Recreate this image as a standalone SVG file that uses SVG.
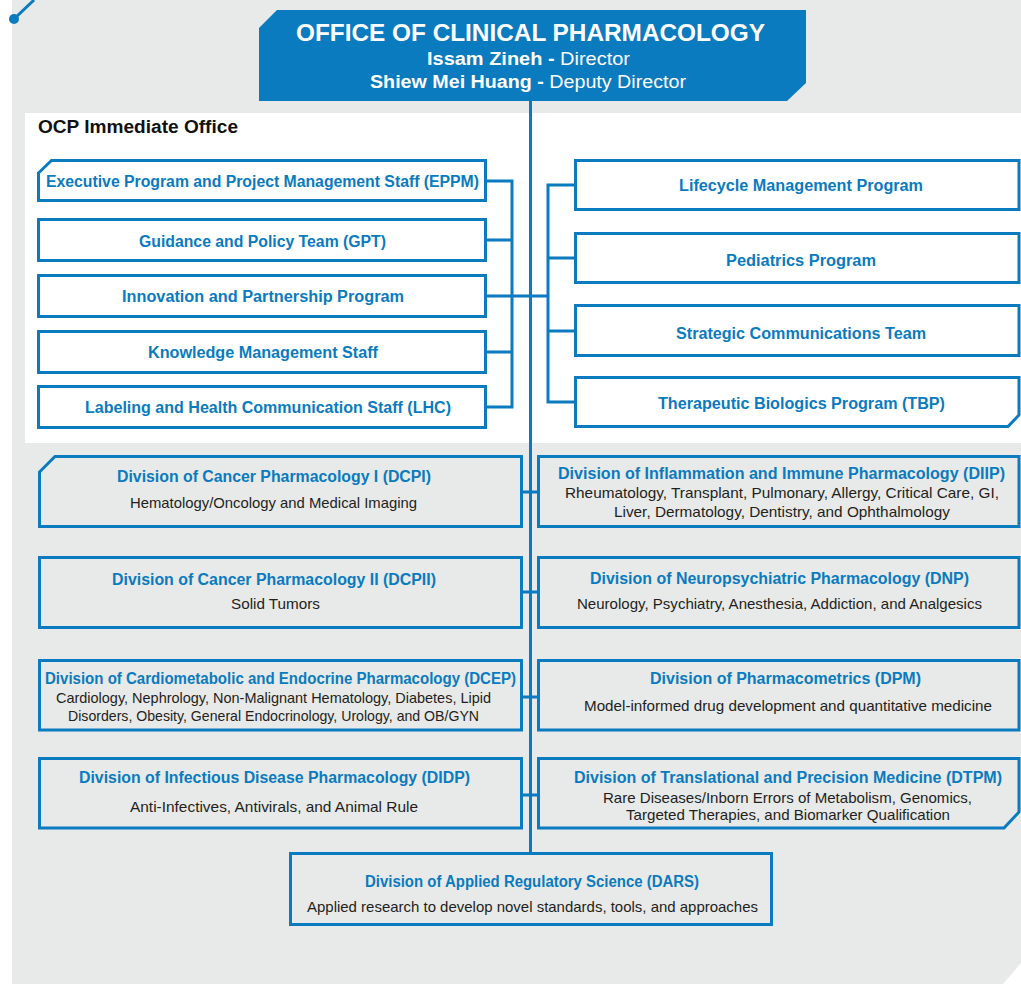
<svg xmlns="http://www.w3.org/2000/svg" width="1021" height="984" viewBox="0 0 1021 984">
<defs>
<style>
text{font-family:"Liberation Sans",Arial,sans-serif;text-anchor:middle}
.box{fill:#ffffff;stroke:#0a7bbf;stroke-width:3}
.div{fill:#e8e9e9;stroke:#0a7bbf;stroke-width:3}
.con{fill:none;stroke:#0a7bbf;stroke-width:3}
.t{fill:#0a7bbf;font-weight:bold;font-size:16px}
.s{fill:#231f20;font-size:14.5px}
.h{fill:#ffffff}
</style>
</defs>
<rect width="1021" height="984" fill="#ffffff"/>
<polygon points="12,0 1021,0 1021,963 1003,984 12,984" fill="#e8e9e9"/>
<line x1="14" y1="19" x2="34" y2="0" stroke="#0a7bbf" stroke-width="3"/>
<circle cx="14" cy="19" r="5" fill="#0a7bbf"/>
<rect x="25" y="113" width="996" height="330" fill="#ffffff"/>
<text x="38" y="133" style="text-anchor:start;font-weight:bold;font-size:18px;fill:#111" textLength="200" lengthAdjust="spacingAndGlyphs">OCP Immediate Office</text>

<g id="connectors">
<line class="con" x1="530.5" y1="101" x2="530.5" y2="853"/>
<path class="con" d="M487,181 H512 M487,240 H512 M487,296 H548 M487,352 H512 M487,407 H512 M512,179.5 V408.5"/>
<path class="con" d="M548,185 H575 M548,258 H575 M548,331 H575 M548,402 H575 M548,183.5 V403.5"/>
<path class="con" d="M522,492 H538 M522,592 H538 M522,697 H538 M522,795 H538"/>
</g>

<g id="ocp">
<polygon points="277,10 806,10 806,83 787,101 259,101 259,28" fill="#0a7bbf"/>
<text class="h" x="530.5" y="41" style="font-weight:bold;font-size:24px" textLength="469" lengthAdjust="spacingAndGlyphs">OFFICE OF CLINICAL PHARMACOLOGY</text>
<text class="h" x="528.5" y="65" style="font-size:18px" textLength="203" lengthAdjust="spacingAndGlyphs"><tspan font-weight="bold">Issam Zineh - </tspan>Director</text>
<text class="h" x="528" y="88" style="font-size:18px" textLength="316" lengthAdjust="spacingAndGlyphs"><tspan font-weight="bold">Shiew Mei Huang - </tspan>Deputy Director</text>
</g>

<g id="eppm">
<path class="box" d="M38.5,173 L51.5,160.5 H485.5 V200.5 H38.5 Z"/>
<text class="t" x="262.5" y="187" textLength="433" lengthAdjust="spacingAndGlyphs">Executive Program and Project Management Staff (EPPM)</text>
</g>
<g id="gpt">
<rect class="box" x="38.5" y="219.5" width="447" height="41"/>
<text class="t" x="262.5" y="247" textLength="247" lengthAdjust="spacingAndGlyphs">Guidance and Policy Team (GPT)</text>
</g>
<g id="ipp">
<rect class="box" x="38.5" y="275.5" width="447" height="41"/>
<text class="t" x="263" y="302" textLength="282" lengthAdjust="spacingAndGlyphs">Innovation and Partnership Program</text>
</g>
<g id="kms">
<rect class="box" x="38.5" y="331.5" width="447" height="41"/>
<text class="t" x="263" y="358" textLength="230" lengthAdjust="spacingAndGlyphs">Knowledge Management Staff</text>
</g>
<g id="lhc">
<rect class="box" x="38.5" y="386.5" width="447" height="41"/>
<text class="t" x="268" y="413" textLength="366" lengthAdjust="spacingAndGlyphs">Labeling and Health Communication Staff (LHC)</text>
</g>

<g id="lcm">
<rect class="box" x="575.5" y="160.5" width="443.5" height="49"/>
<text class="t" x="801" y="191" textLength="244" lengthAdjust="spacingAndGlyphs">Lifecycle Management Program</text>
</g>
<g id="ped">
<rect class="box" x="575.5" y="233.5" width="443.5" height="49"/>
<text class="t" x="801" y="266" textLength="150" lengthAdjust="spacingAndGlyphs">Pediatrics Program</text>
</g>
<g id="sct">
<rect class="box" x="575.5" y="305.5" width="443.5" height="50"/>
<text class="t" x="801" y="339" textLength="250" lengthAdjust="spacingAndGlyphs">Strategic Communications Team</text>
</g>
<g id="tbp">
<path class="box" d="M575.5,377.5 H1019 V415 L1008,426.5 H575.5 Z"/>
<text class="t" x="801.5" y="409" textLength="287" lengthAdjust="spacingAndGlyphs">Therapeutic Biologics Program (TBP)</text>
</g>

<g id="dcpi">
<path class="div" d="M39.5,472 L55,456.5 H521.5 V526.5 H39.5 Z"/>
<text class="t" x="274" y="482" textLength="314" lengthAdjust="spacingAndGlyphs">Division of Cancer Pharmacology I (DCPI)</text>
<text class="s" x="273.5" y="508" textLength="287" lengthAdjust="spacingAndGlyphs">Hematology/Oncology and Medical Imaging</text>
</g>
<g id="diip">
<rect class="div" x="538.5" y="456.5" width="480.5" height="70"/>
<text class="t" x="781.5" y="479" textLength="447" lengthAdjust="spacingAndGlyphs">Division of Inflammation and Immune Pharmacology (DIIP)</text>
<text class="s" x="782" y="498" textLength="434" lengthAdjust="spacingAndGlyphs">Rheumatology, Transplant, Pulmonary, Allergy, Critical Care, GI,</text>
<text class="s" x="782" y="517" textLength="336" lengthAdjust="spacingAndGlyphs">Liver, Dermatology, Dentistry, and Ophthalmology</text>
</g>
<g id="dcpii">
<rect class="div" x="39.5" y="557.5" width="482" height="70"/>
<text class="t" x="274" y="585" textLength="324" lengthAdjust="spacingAndGlyphs">Division of Cancer Pharmacology II (DCPII)</text>
<text class="s" x="275.5" y="609" textLength="89" lengthAdjust="spacingAndGlyphs">Solid Tumors</text>
</g>
<g id="dnp">
<rect class="div" x="538.5" y="557.5" width="480.5" height="70"/>
<text class="t" x="779.5" y="584" textLength="379" lengthAdjust="spacingAndGlyphs">Division of Neuropsychiatric Pharmacology (DNP)</text>
<text class="s" x="779.5" y="609" textLength="405" lengthAdjust="spacingAndGlyphs">Neurology, Psychiatry, Anesthesia, Addiction, and Analgesics</text>
</g>
<g id="dcep">
<rect class="div" x="39.5" y="660.5" width="482" height="69.5"/>
<text class="t" x="280.5" y="684" textLength="471" lengthAdjust="spacingAndGlyphs">Division of Cardiometabolic and Endocrine Pharmacology (DCEP)</text>
<text class="s" x="273.5" y="703" textLength="435" lengthAdjust="spacingAndGlyphs">Cardiology, Nephrology, Non-Malignant Hematology, Diabetes, Lipid</text>
<text class="s" x="273.5" y="721" textLength="411" lengthAdjust="spacingAndGlyphs">Disorders, Obesity, General Endocrinology, Urology, and OB/GYN</text>
</g>
<g id="dpm">
<rect class="div" x="538.5" y="660.5" width="480.5" height="69.5"/>
<text class="t" x="785.5" y="684" textLength="271" lengthAdjust="spacingAndGlyphs">Division of Pharmacometrics (DPM)</text>
<text class="s" x="788" y="711" textLength="408" lengthAdjust="spacingAndGlyphs">Model-informed drug development and quantitative medicine</text>
</g>
<g id="didp">
<rect class="div" x="39.5" y="758.5" width="482" height="69.5"/>
<text class="t" x="274.5" y="783" textLength="391" lengthAdjust="spacingAndGlyphs">Division of Infectious Disease Pharmacology (DIDP)</text>
<text class="s" x="274" y="812" textLength="288" lengthAdjust="spacingAndGlyphs">Anti-Infectives, Antivirals, and Animal Rule</text>
</g>
<g id="dtpm">
<path class="div" d="M538.5,758.5 H1019 V812 L1004,828 H538.5 Z"/>
<text class="t" x="788" y="783" textLength="428" lengthAdjust="spacingAndGlyphs">Division of Translational and Precision Medicine (DTPM)</text>
<text class="s" x="787.5" y="803" textLength="369" lengthAdjust="spacingAndGlyphs">Rare Diseases/Inborn Errors of Metabolism, Genomics,</text>
<text class="s" x="788" y="820" textLength="324" lengthAdjust="spacingAndGlyphs">Targeted Therapies, and Biomarker Qualification</text>
</g>
<g id="dars">
<rect class="div" x="290.5" y="853.5" width="481" height="71"/>
<text class="t" x="532" y="887" textLength="334" lengthAdjust="spacingAndGlyphs">Division of Applied Regulatory Science (DARS)</text>
<text class="s" x="532.5" y="912" textLength="451" lengthAdjust="spacingAndGlyphs">Applied research to develop novel standards, tools, and approaches</text>
</g>
</svg>
